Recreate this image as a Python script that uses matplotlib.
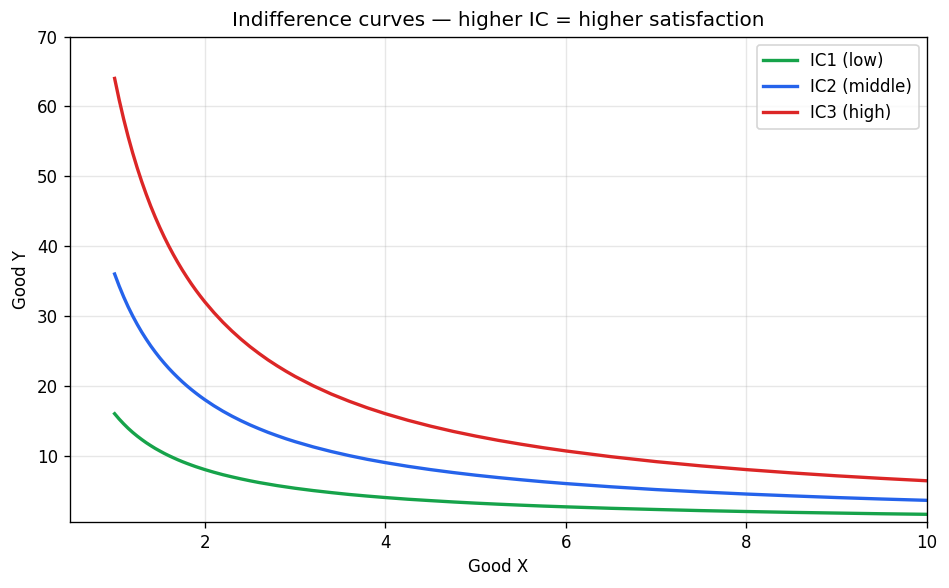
import matplotlib
matplotlib.use("Agg")
import matplotlib.pyplot as plt

# Values
good_x = [1.00, 1.05, 1.10, 1.15, 1.20, 1.25, 1.30, 1.35, 1.40, 1.45, 1.50, 1.55, 1.60,
          1.65, 1.70, 1.75, 1.80, 1.85, 1.90, 1.95, 2.00, 2.1, 2.2, 2.3, 2.4, 2.5, 2.6,
          2.7, 2.8, 2.9, 3.0, 3.2, 3.4, 3.6, 3.8, 4.0, 4.25, 4.5, 4.75, 5.0, 5.25, 5.5,
          5.75, 6.0, 6.5, 7.0, 7.5, 8.0, 8.5, 9.0, 9.5, 10.0]
ic1_low = [16.00, 15.24, 14.55, 13.91, 13.33, 12.80, 12.31, 11.85, 11.43, 11.03, 10.67,
           10.32, 10.00, 9.70, 9.41, 9.14, 8.89, 8.65, 8.42, 8.21, 8.00, 7.62, 7.27, 6.96,
           6.67, 6.40, 6.15, 5.93, 5.71, 5.52, 5.33, 5.00, 4.71, 4.44, 4.21, 4.00, 3.76,
           3.56, 3.37, 3.20, 3.05, 2.91, 2.78, 2.67, 2.46, 2.29, 2.13, 2.00, 1.88, 1.78,
           1.68, 1.60]
ic2_middle = [36.00, 34.29, 32.73, 31.30, 30.00, 28.80, 27.69, 26.67, 25.71, 24.83, 24.00,
              23.23, 22.50, 21.82, 21.18, 20.57, 20.00, 19.46, 18.95, 18.46, 18.00, 17.14,
              16.36, 15.65, 15.00, 14.40, 13.85, 13.33, 12.86, 12.41, 12.00, 11.25, 10.59,
              10.00, 9.47, 9.00, 8.47, 8.00, 7.58, 7.20, 6.86, 6.55, 6.26, 6.00, 5.54,
              5.14, 4.80, 4.50, 4.24, 4.00, 3.79, 3.60]
ic3_high = [64.00, 60.95, 58.18, 55.65, 53.33, 51.20, 49.23, 47.41, 45.71, 44.14, 42.67,
            41.29, 40.00, 38.79, 37.65, 36.57, 35.56, 34.59, 33.68, 32.82, 32.00, 30.48,
            29.09, 27.83, 26.67, 25.60, 24.62, 23.70, 22.86, 22.07, 21.33, 20.00, 18.82,
            17.78, 16.84, 16.00, 15.06, 14.22, 13.47, 12.80, 12.19, 11.64, 11.13, 10.67,
            9.85, 9.14, 8.53, 8.00, 7.53, 7.11, 6.74, 6.40]
labels = ["IC1 (low)", "IC2 (middle)", "IC3 (high)"]
colors = ["#16a34a", "#2563eb", "#dc2626"]

fig, ax = plt.subplots(figsize=(949 / 120, 588 / 120), dpi=120)
for ys, lab, c in zip([ic1_low, ic2_middle, ic3_high], labels, colors):
    ax.plot(good_x, ys, color=c, lw=2.0, label=lab)

ax.set_xlim(0.5, 10)
ax.set_ylim(0.5, 70)
ax.set_xlabel("Good X")
ax.set_ylabel("Good Y")
ax.set_title("Indifference curves — higher IC = higher satisfaction", fontsize=12)
ax.grid(True, alpha=0.3)
ax.legend(loc="upper right")
fig.subplots_adjust(left=69.5 / 949, right=927 / 949, top=1 - 36.5 / 588, bottom=1 - 522 / 588)
fig.savefig("out.png", dpi=120)
